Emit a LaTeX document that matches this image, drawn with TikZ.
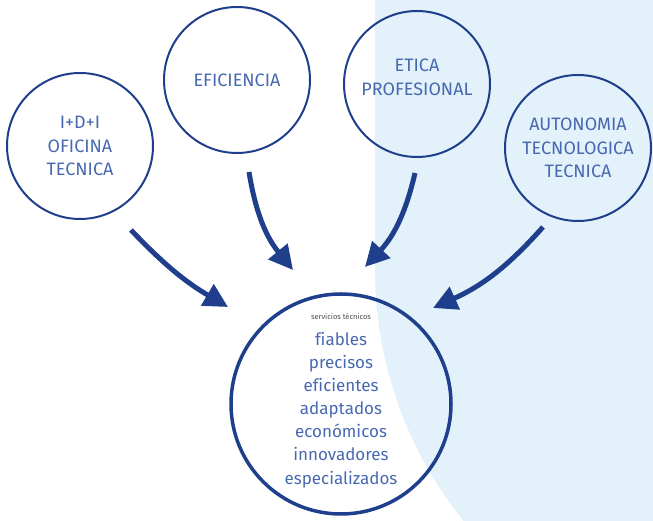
\documentclass[tikz,border=0pt]{standalone}
\usepackage{fontspec}
\setmainfont{Fira Sans}[Ligatures=NoCommon]
\usetikzlibrary{arrows.meta}

\definecolor{fondo}{HTML}{E2F1FA}
\definecolor{azul}{HTML}{1F3F8C}
\definecolor{texto}{HTML}{4869B0}

\begin{document}
\begin{tikzpicture}[x=1pt,y=1pt]
\tikzset{
  valor/.style={circle, draw=azul, line width=2pt, minimum size=146pt, inner sep=0pt,
    text=texto, align=center, font=\fontsize{18}{23.5}\selectfont},
  servicio/.style={circle, draw=azul, line width=3.5pt, minimum size=220pt, inner sep=0pt,
    text=texto, align=center, font=\fontsize{17}{23}\selectfont},
  flecha/.style={draw=azul, line width=5pt, -{Triangle[length=24pt,width=24pt]}}
}

%fija el marco y dibuja el fondo azul claro
\useasboundingbox (0,0) rectangle (653,521);
\fill[fondo] (375,521) -- (375,251) arc[start angle=180,end angle=219,radius=400]
  -- (653,0) -- (653,521) -- cycle;

%circulos de valores
\node[valor] (idi) at (80,375) {I+D+I\\OFICINA\\TECNICA};
\node[valor] (efi) at (237,441) {EFICIENCIA};
\node[valor, text depth=14pt] (etica) at (417,437) {ETICA\\PROFESIONAL};
\node[valor] (auto) at (578,373) {AUTONOMIA\\TECNOLOGICA\\TECNICA};

%circulo central
\node[servicio, text depth=10pt] (serv) at (341,117) {{\fontsize{7.5}{9}\selectfont\color{black!70}servicios técnicos}\\[3pt]
  fiables\\ precisos\\ eficientes\\ adaptados\\ económicos\\ innovadores\\ especializados};

%puntos de las flechas
\coordinate (idi-s) at (131,291);
\coordinate (idi-e) at (228,214);
\coordinate (efi-s) at (249,349);
\coordinate (efi-e) at (293,251);
\coordinate (etica-s) at (415,348);
\coordinate (etica-e) at (365,254);
\coordinate (auto-s) at (543,294);
\coordinate (auto-e) at (433,213);

%flechas
\draw[flecha] (idi-s) to[bend right=8] (idi-e);
\draw[flecha] (efi-s) to[bend right=15] (efi-e);
\draw[flecha] (etica-s) to[bend left=15] (etica-e);
\draw[flecha] (auto-s) to[bend left=12] (auto-e);

\end{tikzpicture}
\end{document}
